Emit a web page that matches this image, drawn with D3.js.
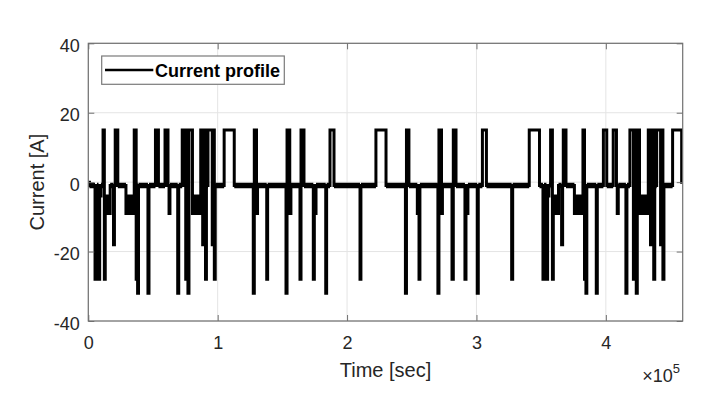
<!DOCTYPE html>
<html><head><meta charset="utf-8">
<script src="https://cdn.jsdelivr.net/npm/d3@7"></script>
<style>
body{margin:0;background:#fff}
svg{display:block}
text{font-family:Arial,"Liberation Sans",Helvetica,sans-serif}
</style>
</head><body>
<svg id="chart" width="706" height="402"></svg>
<script>
// ---- data ----
const timeSec = [
  0, 900, 5200, 6100, 6700, 7900, 8800, 9800, 11400, 12400,
  13100, 13750, 14300, 14850, 15400, 15900, 16450, 16900, 19500, 20200,
  20800, 22800, 29100, 29700, 30300, 30900, 31500, 32100, 32700, 33300,
  33900, 34500, 35000, 35500, 37000, 37600, 38100, 38800, 46100, 46900,
  51900, 54200, 59300, 61600, 62400, 63100, 69100, 69900, 72600, 74700,
  75300, 76000, 77000, 77800, 80500, 81100, 81700, 82300, 82900, 83500,
  84100, 84700, 85300, 85900, 86400, 86900, 88400, 89000, 90600, 91300,
  92500, 95800, 96600, 97400, 98100, 105000, 112800, 127500, 128300, 130000,
  130800, 137900, 138600, 152800, 153600, 155700, 156600, 163600, 164400, 166700,
  173900, 174700, 176000, 183500, 184200, 186800, 189900, 210000, 210700, 222300,
  230100, 245100, 245900, 247800, 254300, 255600, 256300, 270200, 271000, 273000,
  273700, 281100, 282100, 284200, 291100, 291900, 293400, 300600, 301400, 304600,
  307700, 327200, 328000, 340800, 348700, 351400, 352200, 354100, 355000, 356000,
  357300, 358700, 359400, 360000, 360600, 361200, 361800, 362400, 362900, 363400,
  365800, 366600, 367100, 369200, 375700, 376300, 376900, 377500, 378100, 378700,
  379300, 379900, 380500, 381100, 381700, 382300, 383500, 384100, 384600, 385300,
  392600, 393400, 398100, 400700, 405700, 408200, 408800, 409600, 415500, 416300,
  418600, 421300, 422100, 423500, 424300, 426000, 426600, 427200, 427800, 428400,
  429000, 429600, 430200, 430800, 431400, 432000, 432800, 434500, 435300, 437000,
  437800, 439300, 442300, 443000, 444100, 444900, 451600, 458600, 459400
];
const currentA = [
  0, -1, -28, -3, -1, -28, -4, -1, 15, -28,
  -9, -4, -9, -4, -9, -4, -9, -1, -18, -1,
  15, -1, -9, -4, -9, -4, -9, -4, -9, -4,
  -9, -4, -9, 15, -28, -1, -32, -1, -32, -1,
  15, -1, 15, -1, -9, -1, -32, -1, 15, -1,
  -28, 15, -32, 15, -9, -4, -9, -4, -9, -4,
  -9, -4, -9, -4, -9, 15, -18, 15, -28, -1,
  15, -18, 15, -28, -1, 15, -1, -32, 15, -9,
  -1, -28, -1, -32, 15, -9, -1, -28, 15, -1,
  -28, -9, -1, -32, -1, 15, -1, -28, -1, 15,
  -1, -32, 15, -1, -9, -28, -1, -32, 15, -9,
  -1, -28, 15, -1, -28, -9, -1, -32, -1, 15,
  -1, -28, -1, 15, -1, -28, -1, -28, -4, -1,
  15, -28, -9, -4, -9, -4, -9, -4, -9, -1,
  -18, -1, 15, -1, -9, -4, -9, -4, -9, -4,
  -9, -4, -9, -4, -9, 15, -28, -1, -32, -1,
  -32, -1, 15, -1, 15, -1, -9, -1, -32, -1,
  15, -28, 15, -32, 15, -9, -4, -9, -4, -9,
  -4, -9, -4, -9, -4, -9, 15, -18, 15, -28,
  -1, 15, -18, 15, -28, -1, 15, 0, 0
];
const baselineA = -1;   // resting current between pulses
const xDomain = [0, 459400];
const yDomain = [-40, 40];
const xTickValues = [0, 100000, 200000, 300000, 400000];
const xTickLabels = ["0", "1", "2", "3", "4"];
const yTickValues = [-40, -20, 0, 20, 40];
const yTickLabels = ["-40", "-20", "0", "20", "40"];
const xAxisLabel = "Time [sec]";
const yAxisLabel = "Current [A]";
const xExponent = "5";
const legendLabel = "Current profile";

// ---- layout ----
const L = 88.3, R = 682.7, T = 43.3, B = 321;
const axisColor = "#707070", textColor = "#262626", gridColor = "#e4e4e4";

const svg = d3.select("#chart");
svg.append("rect").attr("width", 706).attr("height", 402).attr("fill", "#fff");

const x = d3.scaleLinear().domain(xDomain).range([L, R]);
const y = d3.scaleLinear().domain(yDomain).range([B, T]);

// grid
const grid = svg.append("g");
grid.selectAll("line.gx").data(xTickValues).join("line")
  .attr("x1", d => x(d)).attr("x2", d => x(d)).attr("y1", T).attr("y2", B)
  .attr("stroke", gridColor).attr("stroke-width", 1);
grid.selectAll("line.gy").data(yTickValues).join("line")
  .attr("y1", d => y(d)).attr("y2", d => y(d)).attr("x1", L).attr("x2", R)
  .attr("stroke", gridColor).attr("stroke-width", 1);

// series
svg.append("clipPath").attr("id", "clip").append("rect")
  .attr("x", L).attr("y", T).attr("width", R - L).attr("height", B - T);
const pts = timeSec.map((t, i) => [t, currentA[i]]);
const plot = svg.append("g").attr("clip-path", "url(#clip)");
// resting segments drawn a little heavier (noisy baseline band)
const restSegs = pts.slice(0, -1).map((p, i) => [p, pts[i + 1]]).filter(s => s[0][1] === baselineA);
plot.selectAll("line.rest").data(restSegs).join("line")
  .attr("x1", s => x(s[0][0])).attr("x2", s => x(s[1][0]))
  .attr("y1", s => y(s[0][1])).attr("y2", s => y(s[0][1]))
  .attr("stroke", "#000").attr("stroke-width", 5.5);
const line = d3.line().x(d => x(d[0])).y(d => y(d[1])).curve(d3.curveStepAfter);
plot.append("path").datum(pts).attr("d", line)
  .attr("fill", "none").attr("stroke", "#000").attr("stroke-width", 3)
  .attr("stroke-linejoin", "miter");

// axes
function styleAxis(g, showLabels) {
  g.select(".domain").remove();
  g.selectAll(".tick line").attr("stroke", axisColor).attr("stroke-width", 1);
  g.selectAll(".tick text").attr("fill", textColor).attr("font-size", 18)
    .attr("font-family", "Arial, 'Liberation Sans', Helvetica, sans-serif");
  if (!showLabels) g.selectAll(".tick text").remove();
}
const gx = svg.append("g").attr("transform", `translate(0,${B})`)
  .call(d3.axisBottom(x).tickValues(xTickValues).tickFormat((d, i) => xTickLabels[i])
    .tickSizeInner(-6).tickSizeOuter(0).tickPadding(15.5));
styleAxis(gx, true);
const gxt = svg.append("g").attr("transform", `translate(0,${T})`)
  .call(d3.axisTop(x).tickValues(xTickValues).tickSizeInner(-6).tickSizeOuter(0));
styleAxis(gxt, false);
const gy = svg.append("g").attr("transform", `translate(${L},0)`)
  .call(d3.axisLeft(y).tickValues(yTickValues).tickFormat((d, i) => yTickLabels[i])
    .tickSizeInner(-6).tickSizeOuter(0).tickPadding(8.5));
styleAxis(gy, true);
gy.selectAll(".tick text").attr("dy", "0.45em");
const gyr = svg.append("g").attr("transform", `translate(${R},0)`)
  .call(d3.axisRight(y).tickValues(yTickValues).tickSizeInner(-6).tickSizeOuter(0));
styleAxis(gyr, false);

// box
svg.append("rect").attr("x", L).attr("y", T).attr("width", R - L).attr("height", B - T)
  .attr("fill", "none").attr("stroke", axisColor).attr("stroke-width", 1.2);

// axis labels
svg.append("text").attr("x", (L + R) / 2).attr("y", 377).attr("text-anchor", "middle")
  .attr("font-size", 20).attr("fill", textColor).text(xAxisLabel);
svg.append("text").attr("transform", `translate(44,${(T + B) / 2}) rotate(-90)`)
  .attr("text-anchor", "middle").attr("font-size", 20).attr("fill", textColor).text(yAxisLabel);
const ex = svg.append("text").attr("x", 680).attr("y", 381.5).attr("text-anchor", "end")
  .attr("font-size", 18).attr("fill", textColor);
ex.append("tspan").text("\u00d710");
ex.append("tspan").attr("font-size", 13).attr("dy", -9).text(xExponent);

// legend
const lg = svg.append("g");
lg.append("rect").attr("x", 101.7).attr("y", 56).attr("width", 182.6).attr("height", 28.3)
  .attr("fill", "#fff").attr("stroke", "#7a7a7a").attr("stroke-width", 1.2);
lg.append("line").attr("x1", 105).attr("x2", 153.3).attr("y1", 70).attr("y2", 70)
  .attr("stroke", "#000").attr("stroke-width", 2.6);
lg.append("text").attr("x", 155).attr("y", 77.3).attr("font-size", 18).attr("font-weight", "bold")
  .attr("fill", "#000").text(legendLabel);
</script>
</body></html>
